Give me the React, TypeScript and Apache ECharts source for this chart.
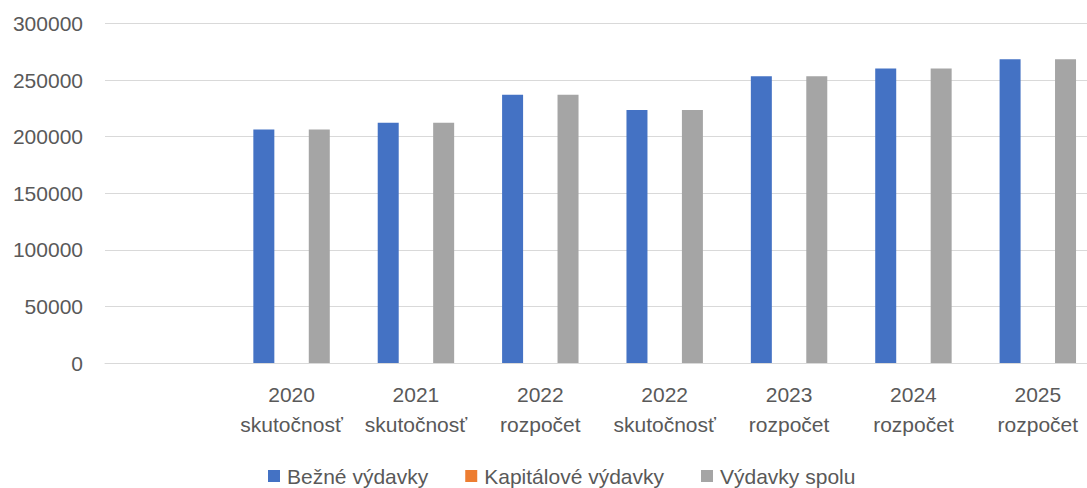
import React, { useEffect, useRef } from "react";
import * as echarts from "echarts";

const categories = [
  "",
  "2020\nskutočnosť",
  "2021\nskutočnosť",
  "2022\nrozpočet",
  "2022\nskutočnosť",
  "2023\nrozpočet",
  "2024\nrozpočet",
  "2025\nrozpočet",
];
const bezneVydavky = [null, 206400, 212400, 237100, 223500, 253300, 260300, 268300];
const kapitaloveVydavky = [null, 0, 0, 0, 0, 0, 0, 0];
const vydavkySpolu = [null, 206400, 212400, 237100, 223500, 253300, 260300, 268300];
const seriesNames = ["Bežné výdavky", "Kapitálové výdavky", "Výdavky spolu"];
const colors = ["#4472C4", "#ED7D31", "#A5A5A5"];

export default function App() {
  const ref = useRef<HTMLDivElement>(null);
  useEffect(() => {
    if (!ref.current) return;
    const chart = echarts.init(ref.current, undefined, { renderer: "svg" });
    const font = "'Liberation Sans', Arial, sans-serif";
    chart.setOption({
      animation: false,
      color: colors,
      textStyle: { fontFamily: font },
      grid: { left: 105, right: 0, top: 23.5, height: 339.5 },
      legend: {
        left: 268,
        top: 463,
        padding: 0,
        itemWidth: 12,
        itemHeight: 12,
        itemGap: 37,
        icon: "rect",
        textStyle: { fontFamily: font, fontSize: 21, lineHeight: 26, color: "#595959", padding: [0, 0, 0, 2] },
        data: seriesNames,
      },
      xAxis: {
        type: "category",
        data: categories,
        axisLine: { show: true, lineStyle: { color: "#D9D9D9", width: 1 } },
        axisTick: { show: false },
        axisLabel: {
          interval: 0,
          margin: 16,
          fontFamily: font,
          fontSize: 21,
          lineHeight: 30,
          color: "#595959",
        },
      },
      yAxis: {
        type: "value",
        min: 0,
        max: 300000,
        interval: 50000,
        axisLine: { show: false },
        axisTick: { show: false },
        splitLine: { lineStyle: { color: "#D9D9D9", width: 1 } },
        axisLabel: {
          margin: 22,
          fontFamily: font,
          fontSize: 21,
          color: "#595959",
          formatter: (v: number) => String(v),
        },
      },
      series: [
        { name: seriesNames[0], type: "bar", data: bezneVydavky, barWidth: 21, barGap: "32%" },
        { name: seriesNames[1], type: "bar", data: kapitaloveVydavky, barWidth: 21, barGap: "32%" },
        { name: seriesNames[2], type: "bar", data: vydavkySpolu, barWidth: 21, barGap: "32%" },
      ],
    });
    return () => chart.dispose();
  }, []);
  return (
    <div
      style={{
        position: "fixed",
        left: 0,
        top: 0,
        width: 1087,
        height: 488,
        overflow: "hidden",
        background: "#ffffff",
      }}
    >
      <div ref={ref} style={{ width: 1100, height: 488 }} />
    </div>
  );
}
